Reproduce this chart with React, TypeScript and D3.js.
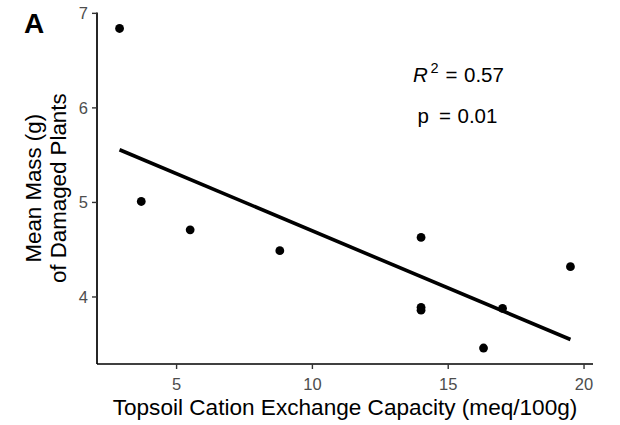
import React from "react";
import * as d3 from "d3";

const cec = [2.9, 3.7, 5.5, 8.8, 14.0, 14.0, 14.0, 16.3, 17.0, 19.5];
const mass = [6.84, 5.01, 4.71, 4.49, 4.63, 3.89, 3.86, 3.46, 3.88, 4.32];
const xTicks = [5, 10, 15, 20];
const yTicks = [4, 5, 6, 7];
const r2Label = "0.57";
const pLabel = "0.01";

const W = 620;
const H = 425;
const panel = { left: 97, right: 593, top: 12.5, bottom: 364 };
const FONT = "'Liberation Sans', Arial, Helvetica, sans-serif";

function expand(vals: number[]): [number, number] {
  const [a, b] = d3.extent(vals) as [number, number];
  const pad = (b - a) * 0.05;
  return [a - pad, b + pad];
}

export default function App() {
  const x = d3.scaleLinear().domain(expand(cec)).range([panel.left, panel.right]);
  const y = d3.scaleLinear().domain(expand(mass)).range([panel.bottom, panel.top]);

  const mx = d3.mean(cec)!;
  const my = d3.mean(mass)!;
  let sxy = 0, sxx = 0;
  cec.forEach((v, i) => {
    sxy += (v - mx) * (mass[i] - my);
    sxx += (v - mx) * (v - mx);
  });
  const slope = sxy / sxx;
  const intercept = my - slope * mx;
  const [x0, x1] = d3.extent(cec) as [number, number];
  const fitPts: [number, number][] = [x0, x1].map((v) => [v, intercept + slope * v]);
  const line = d3
    .line<[number, number]>()
    .x((d) => x(d[0]))
    .y((d) => y(d[1]));

  const pcx = (panel.left + panel.right) / 2;
  const pcy = (panel.top + panel.bottom) / 2;

  return (
    <svg
      width={W}
      height={H}
      style={{ position: "absolute", left: 0, top: 0, background: "#fff" }}
      fontFamily={FONT}
    >
      <rect x={0} y={0} width={W} height={H} fill="#fff" />
      {/* regression line */}
      <path d={line(fitPts) || ""} stroke="#000" strokeWidth={3.6} fill="none" />
      {/* points */}
      {cec.map((v, i) => (
        <circle key={i} cx={x(v)} cy={y(mass[i])} r={4.4} fill="#000" />
      ))}
      {/* axes */}
      <line x1={panel.left} x2={panel.left} y1={panel.top} y2={panel.bottom} stroke="#000" strokeWidth={1.7} />
      <line x1={panel.left} x2={panel.right} y1={panel.bottom} y2={panel.bottom} stroke="#000" strokeWidth={1.7} />
      {yTicks.map((t) => (
        <g key={"y" + t}>
          <line x1={panel.left - 5} x2={panel.left} y1={y(t)} y2={y(t)} stroke="#333" strokeWidth={1.4} />
          <text x={panel.left - 9} y={y(t)} dy="0.36em" textAnchor="end" fontSize={16.5} fill="#4d4d4d">
            {t}
          </text>
        </g>
      ))}
      {xTicks.map((t) => (
        <g key={"x" + t}>
          <line x1={x(t)} x2={x(t)} y1={panel.bottom} y2={panel.bottom + 5} stroke="#333" strokeWidth={1.4} />
          <text x={x(t)} y={390} textAnchor="middle" fontSize={16.5} fill="#4d4d4d">
            {t}
          </text>
        </g>
      ))}
      {/* axis titles */}
      <text x={pcx} y={415} textAnchor="middle" fontSize={22.6} fill="#000">
        Topsoil Cation Exchange Capacity (meq/100g)
      </text>
      <text transform={`translate(40.7,${pcy}) rotate(-90)`} textAnchor="middle" fontSize={22.3} fill="#000">
        Mean Mass (g)
      </text>
      <text transform={`translate(65.7,${pcy}) rotate(-90)`} textAnchor="middle" fontSize={22.3} fill="#000">
        of Damaged Plants
      </text>
      {/* panel tag */}
      <text x={24} y={33} fontSize={28} fontWeight="bold" fill="#000">
        A
      </text>
      {/* annotation */}
      <text y={82} fontSize={20.5} fill="#000">
        <tspan x={413} fontStyle="italic">R</tspan>
        <tspan x={430.5} fontSize={14.5} dy={-9}>2</tspan>
        <tspan x={445.5} dy={9}>=</tspan>
        <tspan x={464}>{r2Label}</tspan>
      </text>
      <text y={123} fontSize={20.5} fill="#000">
        <tspan x={417.5}>p</tspan>
        <tspan x={439}>=</tspan>
        <tspan x={457.5}>{pLabel}</tspan>
      </text>
    </svg>
  );
}
